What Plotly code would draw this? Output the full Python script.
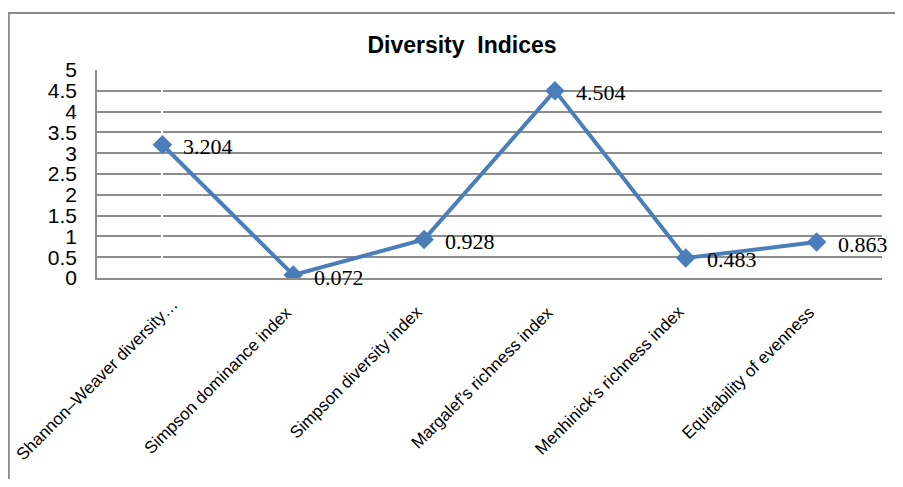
import plotly.graph_objects as go

categories = ["Shannon–Weaver diversity…", "Simpson dominance index", "Simpson diversity index",
              "Margalef’s richness index", "Menhinick’s richness index", "Equitability of evenness"]
values = [3.204, 0.072, 0.928, 4.504, 0.483, 0.863]
value_labels = ["3.204", "0.072", "0.928", "4.504", "0.483", "0.863"]
y_ticks = [0, 0.5, 1, 1.5, 2, 2.5, 3, 3.5, 4, 4.5, 5]
y_tick_labels = ["0", "0.5", "1", "1.5", "2", "2.5", "3", "3.5", "4", "4.5", "5"]

LINE = "#4a7ebb"
GRID = "#8c8c8c"

# page has an 8px body margin; compensate so the plot area lands at x 97..882, y 70..278
W, H = 887, 471
L, T = 89, 62
PW, PH = 785, 208
R = W - L - PW
B = H - T - PH

x_idx = list(range(len(categories)))

fig = go.Figure()
fig.add_trace(go.Scatter(
    x=x_idx, y=values, mode="lines+markers",
    line=dict(color=LINE, width=4),
    marker=dict(symbol="diamond", size=15, color=LINE),
    showlegend=False, hoverinfo="skip",
))

for xi, v, lab in zip(x_idx, values, value_labels):
    fig.add_annotation(x=xi, y=v, text=lab, showarrow=False, xanchor="left", yanchor="middle",
                       xshift=19, yshift=-2,
                       font=dict(family="Liberation Serif", size=22, color="black"))

# rotated category labels; like the source chart, the first one is nudged right so it stays inside
for xi, cat in zip(x_idx, categories):
    first = xi == 0
    fig.add_annotation(x=xi, y=0, xref="x", yref="y", text=cat, showarrow=False,
                       textangle=-45, xanchor="right", yanchor="top",
                       xshift=22 if first else 5, yshift=-14 if first else -22,
                       font=dict(family="Liberation Sans", size=17, color="black"))

fig.update_layout(
    width=W, height=H,
    margin=dict(l=L, r=R, t=T, b=B, autoexpand=False),
    paper_bgcolor="white", plot_bgcolor="white",
    title=dict(text="<b>Diversity  Indices</b>", x=454 / W, xanchor="center",
               y=1 - 37 / H, yanchor="middle",
               font=dict(family="Liberation Sans", size=23, color="black")),
    font=dict(family="Liberation Sans", color="black"),
    xaxis=dict(
        tickmode="array", tickvals=x_idx, showticklabels=False,
        range=[-0.5, 5.5], showgrid=False,
        showline=True, linecolor=GRID, linewidth=1.5, ticks="",
        automargin=False, fixedrange=True,
    ),
    yaxis=dict(
        range=[0, 5], tickmode="array", tickvals=y_ticks, ticktext=y_tick_labels,
        showgrid=True, gridcolor=GRID, gridwidth=1.5,
        showline=True, linecolor=GRID, linewidth=1.5, ticks="",
        ticklabelstandoff=14, automargin=False,
        tickfont=dict(family="Liberation Sans", size=21, color="black"),
        zeroline=False, fixedrange=True,
    ),
    shapes=[dict(type="rect", xref="paper", yref="paper",
                 x0=(0.8 - L) / PW, x1=1.2, y0=-1.5, y1=1 + (T - 5) / PH,
                 line=dict(color="#8a8a8a", width=2), fillcolor="rgba(0,0,0,0)", layer="below")],
)

fig.write_html("out.html")
